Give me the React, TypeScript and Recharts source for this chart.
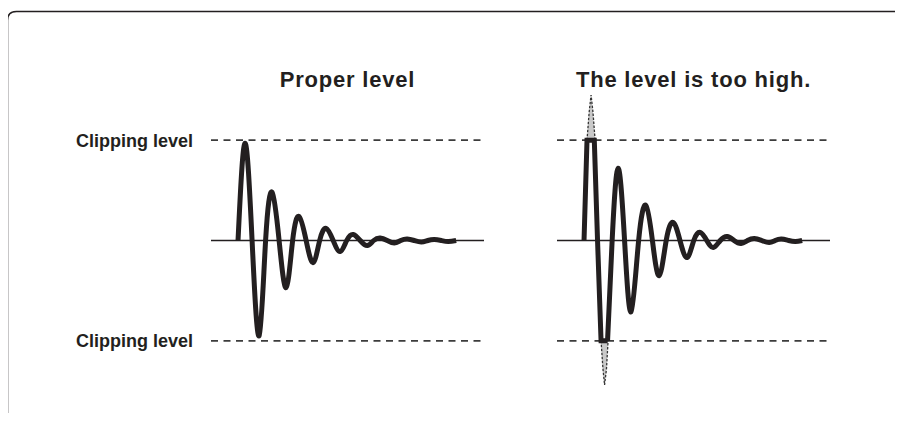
import { Area, ComposedChart, Line, ReferenceLine, XAxis, YAxis } from "recharts";

// time axis in arbitrary units (one cycle ~ 10), amplitude: clipping level = ±100
const X_DOMAIN = [-10, 91];
const Y_DOMAIN = [-150, 150];
const CLIP = 100;

const leftT = [0, 2.6, 5.2, 7.8, 10.2, 12.6, 15.2, 17.8, 20.2, 22.6, 25.2, 27.8, 30.2, 32.6, 35.2, 37.8, 40.2, 42.6, 45.2, 47.8, 50.2, 52.6, 55.2, 57.8, 60.2, 62.6, 65.2, 67.8, 70.2, 72.6, 75.2, 77.8, 80.7];
const leftV = [0, 97, 0, -95, 0, 48, 0, -47, 0, 24, 0, -22, 0, 12, 0, -11, 0, 6, 0, -5, 0, 2.5, 0, -2.5, 0, 1.5, 0, -1.5, 0, 1, 0, -1, 0];

// clipped head of the too-high signal
const clipT = [0, 1.1, 3.8, 5.0, 6.3, 8.7];
const clipV = [0, 100, 100, 0, -100, -100];

const tailT = [8.7, 10.4, 12.6, 15.0, 17.4, 20.2, 22.9, 25.3, 27.8, 30.4, 33.0, 35.5, 38.1, 40.6, 43.0, 45.4, 47.8, 50.4, 53.0, 55.5, 58.1, 60.5, 63.0, 65.7, 68.5, 70.7, 73.0, 75.7, 78.2, 80.7];
const tailV = [-100, 0, 72, 0, -71, 0, 35, 0, -35, 0, 18, 0, -17, 0, 8, 0, -7, 0, 4, 0, -3, 0, 2, 0, -2, 0, 1.5, 0, -1, 0];

// part of the waveform lost above / below the clipping level
const overTopT = [1.1, 1.9, 2.6, 3.3, 4.1];
const overTopV = [100, 128, 145, 128, 100];
const overBotT = [6.3, 7.0, 7.6, 8.3, 8.9];
const overBotV = [-100, -128, -144, -128, -100];

const INK = "#231f20";
const FONT = "'Liberation Sans', Arial, Helvetica, sans-serif";

const rows = (t: number[], v: number[]) => t.map((x, i) => ({ t: x, v: v[i] }));
const rangeRows = (t: number[], v: number[]) => t.map((x, i) => ({ t: x, range: [v[0], v[i]] }));

interface PanelProps {
  title: string;
  left: number;
  labels?: boolean;
  clipped?: boolean;
}

function Panel({ title, left, labels, clipped }: PanelProps) {
  const dashed = (y: number) => (
    <ReferenceLine
      y={y}
      stroke="#3c3c3c"
      strokeWidth={1.6}
      strokeDasharray="7 5.5"
      label={
        labels
          ? { value: "Clipping level", position: "left", offset: 18, fontSize: 18, fontWeight: "bold", fill: INK, fontFamily: FONT }
          : undefined
      }
    />
  );

  return (
    <div style={{ position: "absolute", left, top: 0 }}>
      <ComposedChart width={520} height={421} margin={{ top: 90, right: 36, bottom: 30, left: 211 }}>
        <XAxis dataKey="t" type="number" domain={X_DOMAIN} hide allowDataOverflow />
        <YAxis type="number" domain={Y_DOMAIN} hide allowDataOverflow />
        <ReferenceLine
          y={150}
          stroke="none"
          label={{ value: title, position: "top", offset: 3.5, fontSize: 22, fontWeight: "bold", fill: INK, fontFamily: FONT, style: { letterSpacing: "0.8px" } }}
        />
        {clipped && (
          <Area data={rangeRows(overTopT, overTopV)} dataKey="range" type="linear" fill="#c9c9c9" fillOpacity={1} stroke="#333" strokeWidth={1.3} strokeDasharray="2.5 1.5" dot={false} activeDot={false} isAnimationActive={false} />
        )}
        {clipped && (
          <Area data={rangeRows(overBotT, overBotV)} dataKey="range" type="linear" fill="#c9c9c9" fillOpacity={1} stroke="#333" strokeWidth={1.3} strokeDasharray="2.5 1.5" dot={false} activeDot={false} isAnimationActive={false} />
        )}
        {dashed(CLIP)}
        {dashed(-CLIP)}
        <ReferenceLine y={0} stroke={INK} strokeWidth={1.3} />
        {!clipped && (
          <Line data={rows(leftT, leftV)} dataKey="v" type="natural" stroke={INK} strokeWidth={5} dot={false} activeDot={false} isAnimationActive={false} strokeLinejoin="round" />
        )}
        {clipped && (
          <Line data={rows(clipT, clipV)} dataKey="v" type="linear" stroke={INK} strokeWidth={5} dot={false} activeDot={false} isAnimationActive={false} strokeLinejoin="miter" />
        )}
        {clipped && (
          <Line data={rows(tailT, tailV)} dataKey="v" type="natural" stroke={INK} strokeWidth={5} dot={false} activeDot={false} isAnimationActive={false} strokeLinejoin="round" />
        )}
      </ComposedChart>
    </div>
  );
}

export default function App() {
  return (
    <div style={{ position: "relative", margin: -8, width: 903, height: 421, overflow: "hidden", background: "#fff" }}>
      <svg width={903} height={421} style={{ position: "absolute", left: 0, top: 0 }}>
        <path d="M 7.5 421 L 7.5 20.5 Q 7.5 11.5 16.5 11.5 L 903 11.5" fill="none" stroke={INK} strokeWidth={1.5} />
      </svg>
      <Panel title="Proper level" left={0} labels />
      <Panel title="The level is too high." left={346} clipped />
    </div>
  );
}
